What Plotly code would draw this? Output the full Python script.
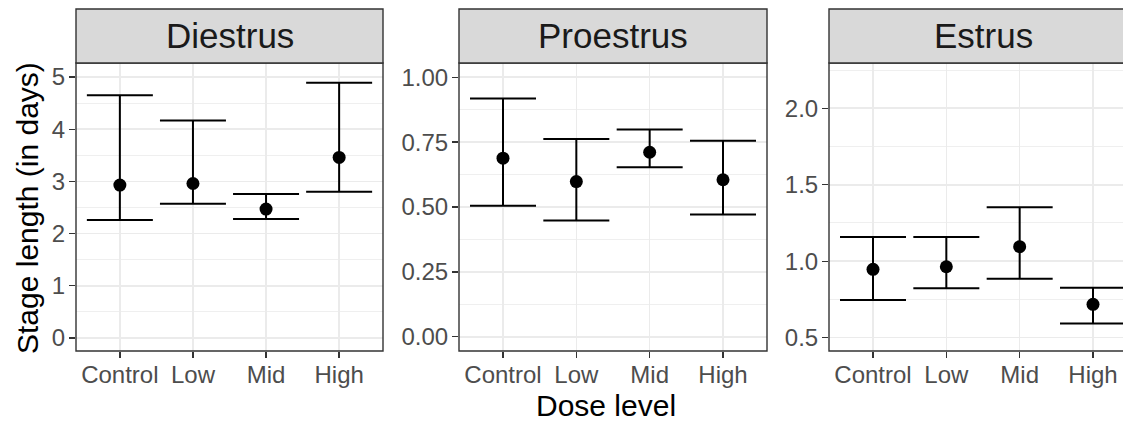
import plotly.graph_objects as go

W, H = 1123, 421

doses = ["Control", "Low", "Mid", "High"]
stages = ["Diestrus", "Proestrus", "Estrus"]

diestrus_mean = [2.93, 2.96, 2.47, 3.46]
diestrus_low = [2.26, 2.57, 2.28, 2.80]
diestrus_high = [4.65, 4.17, 2.76, 4.89]

proestrus_mean = [0.688, 0.598, 0.711, 0.605]
proestrus_low = [0.505, 0.448, 0.653, 0.471]
proestrus_high = [0.918, 0.762, 0.799, 0.755]

estrus_mean = [0.947, 0.964, 1.095, 0.718]
estrus_low = [0.747, 0.823, 0.886, 0.592]
estrus_high = [1.159, 1.159, 1.353, 0.827]

y_ranges = [[-0.25, 5.27], [-0.055, 1.055], [0.413, 2.296]]
y_dticks = [1, 0.25, 0.5]
y_tick0 = [0, 0, 0.5]
y_formats = ["d", ".2f", ".1f"]

# pixel layout (screen coordinates)
panels_px = [(76, 383), (459, 767), (829, 1137)]
plot_top, plot_bot = 63, 351
strip_top = 9

FONT = "Liberation Sans, Arial, sans-serif"

def px_x(v):
    return v / W

def px_y(v):
    return 1 - v / H

fig = go.Figure()

means = [diestrus_mean, proestrus_mean, estrus_mean]
lows = [diestrus_low, proestrus_low, estrus_low]
highs = [diestrus_high, proestrus_high, estrus_high]

for i in range(3):
    m, lo, hi = means[i], lows[i], highs[i]
    suffix = "" if i == 0 else str(i + 1)
    fig.add_trace(go.Scatter(
        x=doses, y=m, mode="markers",
        marker=dict(color="black", size=13),
        error_y=dict(type="data", symmetric=False,
                     array=[h - v for h, v in zip(hi, m)],
                     arrayminus=[v - l for v, l in zip(m, lo)],
                     color="black", thickness=2, width=33),
        xaxis="x" + suffix, yaxis="y" + suffix, showlegend=False,
        hoverinfo="skip",
    ))

layout = dict(
    width=W, height=H, margin=dict(l=0, r=0, t=0, b=0),
    paper_bgcolor="white", plot_bgcolor="white",
    font=dict(family=FONT),
    showlegend=False,
)

shapes = []
annotations = []
for i in range(3):
    x0p, x1p = panels_px[i]
    d0 = px_x(x0p)
    d1 = min(1.0, px_x(x1p))
    vis_w = min(x1p, W) - x0p
    full_w = x1p - x0p
    xr = [-0.6, -0.6 + 4.2 * vis_w / full_w]
    suffix = "" if i == 0 else str(i + 1)
    layout["xaxis" + suffix] = dict(
        domain=[d0, d1], anchor="y" + suffix,
        type="category", categoryorder="array", categoryarray=doses,
        range=xr, showgrid=True, gridcolor="#EBEBEB", gridwidth=1.6,
        ticks="outside", ticklen=6, tickwidth=1.4, tickcolor="#333333",
        ticklabelstandoff=-4,
        tickfont=dict(size=24, color="#4D4D4D", family=FONT),
        showline=False, zeroline=False, fixedrange=True,
    )
    layout["yaxis" + suffix] = dict(
        domain=[px_y(plot_bot), px_y(plot_top)], anchor="x" + suffix,
        range=y_ranges[i], tick0=y_tick0[i], dtick=y_dticks[i],
        tickformat=y_formats[i],
        showgrid=True, gridcolor="#EBEBEB", gridwidth=1.6,
        minor=dict(dtick=y_dticks[i] / 2, tick0=y_tick0[i], showgrid=True,
                   gridcolor="#EBEBEB", gridwidth=0.8, ticks=""),
        ticks="outside", ticklen=6, tickwidth=1.4, tickcolor="#333333",
        ticklabelstandoff=-1,
        tickfont=dict(size=24, color="#4D4D4D", family=FONT),
        showline=False, zeroline=False, fixedrange=True,
    )
    # panel border
    shapes.append(dict(type="rect", xref="paper", yref="paper",
                       x0=px_x(x0p), x1=px_x(x1p), y0=px_y(plot_bot), y1=px_y(plot_top),
                       line=dict(color="#333333", width=1.4), fillcolor="rgba(0,0,0,0)",
                       layer="above"))
    # strip
    shapes.append(dict(type="rect", xref="paper", yref="paper",
                       x0=px_x(x0p), x1=px_x(x1p), y0=px_y(plot_top), y1=px_y(strip_top),
                       line=dict(color="#333333", width=1.4), fillcolor="#D9D9D9",
                       layer="above"))
    annotations.append(dict(text=stages[i], xref="paper", yref="paper",
                            x=px_x((x0p + x1p) / 2), y=px_y((plot_top + strip_top) / 2),
                            xanchor="center", yanchor="middle", showarrow=False,
                            font=dict(size=35, color="#1A1A1A", family=FONT)))

annotations.append(dict(text="Dose level", xref="paper", yref="paper",
                        x=px_x(606), y=px_y(405), xanchor="center", yanchor="middle",
                        showarrow=False, font=dict(size=30, color="black", family=FONT)))
annotations.append(dict(text="Stage length (in days)", xref="paper", yref="paper",
                        x=px_x(27), y=px_y(208), xanchor="center", yanchor="middle",
                        textangle=-90, showarrow=False,
                        font=dict(size=30, color="black", family=FONT)))

layout["shapes"] = shapes
layout["annotations"] = annotations
fig.update_layout(**layout)

fig.write_html(
    "out.html",
    config={"displayModeBar": False, "staticPlot": True},
    post_script="document.body.style.margin='0';"
                "document.documentElement.style.overflow='hidden';"
                "document.body.style.overflow='hidden';",
)
